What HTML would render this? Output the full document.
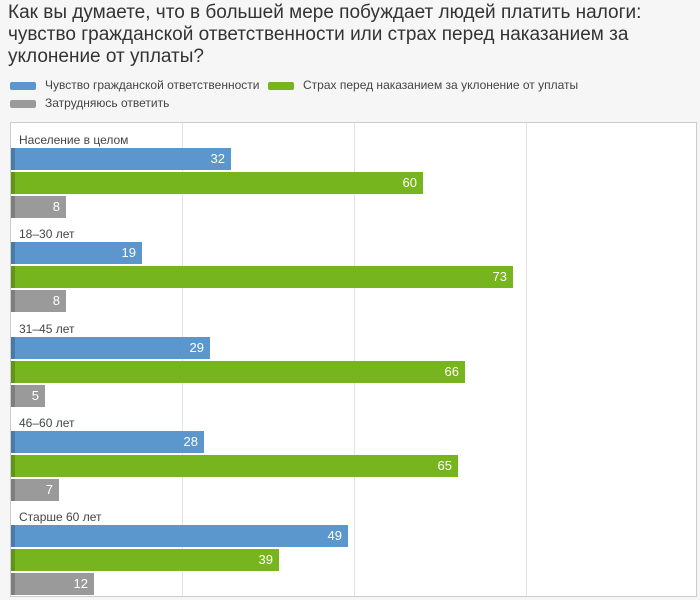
<!DOCTYPE html>
<html><head><meta charset="utf-8"><style>
body{margin:0;width:700px;height:600px;background:#f6f6f6;font-family:"Liberation Sans",sans-serif;position:relative;overflow:hidden}
.t{position:absolute;left:8px;top:2px;font-size:19px;line-height:22px;color:#333;width:690px}
.lg{position:absolute;font-size:12px;color:#444}
.sw{position:absolute;width:26px;height:8px;border-radius:2px}
.box{position:absolute;left:10px;top:122px;width:687px;height:475px;background:#fff;border:1px solid #ccc;box-sizing:border-box}
.g{position:absolute;top:123px;height:473px;width:1px;background:#e4e4e4}
.b{position:absolute;left:11px;height:22px;color:#fff;font-size:13px;line-height:22px;text-align:right;box-sizing:border-box;padding-right:6px}
.b::before{content:"";position:absolute;left:0;top:0;width:4px;height:100%;background:rgba(0,0,0,.18)}
.bl{background:#5b96cc}.gr{background:#77b51e}.gy{background:#9a9a9a}
.lab{position:absolute;left:19px;font-size:12px;color:#444}
</style></head><body>
<div class="t">Как вы думаете, что в большей мере побуждает людей платить налоги: чувство гражданской ответственности или страх перед наказанием за уклонение от уплаты?</div>
<div class="sw bl" style="left:10px;top:82px"></div><div class="lg" style="left:45px;top:78px">Чувство гражданской ответственности</div>
<div class="sw gr" style="left:268px;top:82px"></div><div class="lg" style="left:303px;top:78px">Страх перед наказанием за уклонение от уплаты</div>
<div class="sw gy" style="left:10px;top:100px"></div><div class="lg" style="left:45px;top:96px">Затрудняюсь ответить</div>
<div class="box"></div>
<div class="g" style="left:182px"></div><div class="g" style="left:354px"></div><div class="g" style="left:526px"></div>
<div class="lab" style="top:133px">Население в целом</div>
<div class="b bl" style="top:148px;width:220px">32</div>
<div class="b gr" style="top:172px;width:412px">60</div>
<div class="b gy" style="top:196px;width:55px">8</div>
<div class="lab" style="top:227px">18–30 лет</div>
<div class="b bl" style="top:242px;width:131px">19</div>
<div class="b gr" style="top:266px;width:502px">73</div>
<div class="b gy" style="top:290px;width:55px">8</div>
<div class="lab" style="top:322px">31–45 лет</div>
<div class="b bl" style="top:337px;width:199px">29</div>
<div class="b gr" style="top:361px;width:454px">66</div>
<div class="b gy" style="top:385px;width:34px">5</div>
<div class="lab" style="top:416px">46–60 лет</div>
<div class="b bl" style="top:431px;width:193px">28</div>
<div class="b gr" style="top:455px;width:447px">65</div>
<div class="b gy" style="top:479px;width:48px">7</div>
<div class="lab" style="top:510px">Старше 60 лет</div>
<div class="b bl" style="top:525px;width:337px">49</div>
<div class="b gr" style="top:549px;width:268px">39</div>
<div class="b gy" style="top:573px;width:83px">12</div>
</body></html>
